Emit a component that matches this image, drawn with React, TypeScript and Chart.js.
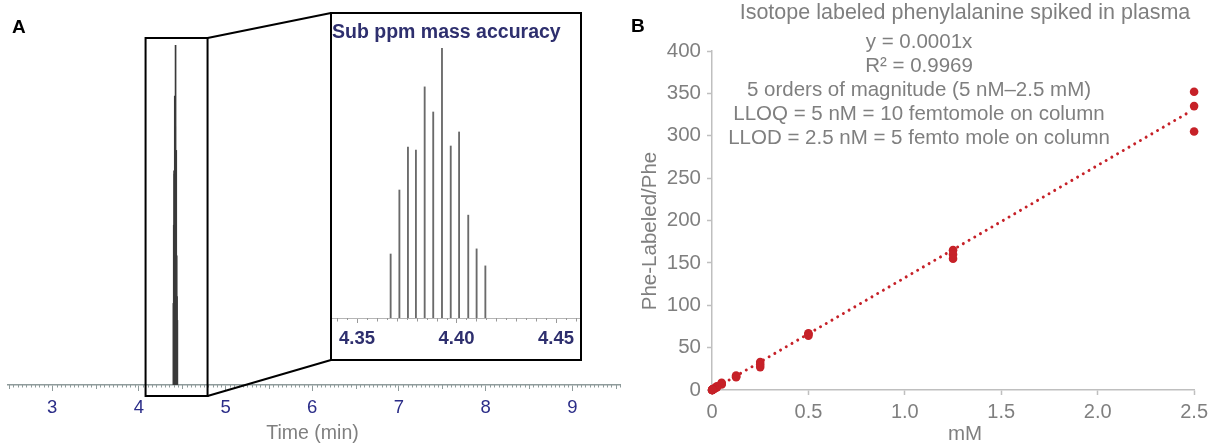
import { useEffect, useRef } from "react";
import { Chart, registerables } from "chart.js";
Chart.register(...registerables);

const W = 1213;
const H = 443;
const FONT = '"Liberation Sans", Arial, Helvetica, sans-serif';
const GRAY = "#7f7f7f";
const NAVY = "#2b2d88";
const INSET_NAVY = "#2e2f6e";
const RED = "#c62128";
const AXIS_A = "#8f9b9b";
const AXIS_B = "#bfbfbf";

// ---------- Panel A: chromatogram ----------
const chromTimes = [4.398, 4.402, 4.406, 4.41, 4.414, 4.419, 4.423, 4.427, 4.431, 4.436, 4.44, 4.444];
const chromIntensity = [0.24, 0.47, 0.63, 0.62, 0.85, 0.76, 1.0, 0.64, 0.69, 0.38, 0.26, 0.19];
const chromTicks = [3, 4, 5, 6, 7, 8, 9];
const zoomWindow = [4.077, 4.792];

// ---------- Panel A: inset ----------
const insetTimes = [4.3669, 4.3713, 4.3756, 4.3796, 4.384, 4.3883, 4.3927, 4.3971, 4.4013, 4.4059, 4.4101, 4.4145];
const insetIntensity = [0.237, 0.474, 0.633, 0.622, 0.856, 0.763, 1.0, 0.637, 0.689, 0.381, 0.256, 0.193];
const insetTicks = [4.35, 4.4, 4.45];

// ---------- Panel B: calibration ----------
const concentrations = [2.5, 1.25, 0.5, 0.25, 0.125, 0.05, 0.025, 0.0125, 0.005, 0.0025, 0.00125, 0.0005];
const replicate1 = [352, 165, 67, 33, 17, 8.5, 4.3, 2.1, 0.9, 0.45, 0.22, 0.09];
const replicate2 = [335, 160, 66, 30, 16, 7.5, 3.6, 1.8, 0.75, 0.38, 0.19, 0.08];
const replicate3 = [305, 155, 64, 27, 15, 6.5, 3.1, 1.5, 0.6, 0.3, 0.15, 0.06];
const trendX = [0, 2.46];
const trendY = [0, 326];
const bTitle = "Isotope labeled phenylalanine spiked in plasma";
const bAnnotations = [
  "y = 0.0001x",
  "R\u00b2 = 0.9969",
  "5 orders of magnitude (5 nM\u20132.5 mM)",
  "LLOQ = 5 nM = 10 femtomole on column",
  "LLOD = 2.5 nM = 5 femto mole on column",
];

function makeMain(canvas: HTMLCanvasElement) {
  const overlay = {
    id: "mainOverlay",
    afterDraw(chart: any) {
      const ctx = chart.ctx as CanvasRenderingContext2D;
      const xs = chart.scales.x;
      const base = chart.chartArea.bottom;
      ctx.save();
      ctx.strokeStyle = AXIS_A;
      ctx.lineWidth = 1;
      for (let k = Math.ceil(xs.min / 0.05); k * 0.05 <= xs.max; k++) {
        if (k % 20 === 0) continue;
        const len = k % 10 === 0 ? 4 : 2.5;
        const px = Math.round(xs.getPixelForValue(k * 0.05)) + 0.5;
        ctx.beginPath();
        ctx.moveTo(px, base);
        ctx.lineTo(px, base + len);
        ctx.stroke();
      }
      // zoom rectangle and connectors
      const x1 = xs.getPixelForValue(zoomWindow[0]);
      const x2 = xs.getPixelForValue(zoomWindow[1]);
      ctx.strokeStyle = "#000";
      ctx.lineWidth = 2;
      ctx.strokeRect(x1, 38, x2 - x1, 358);
      ctx.beginPath();
      ctx.moveTo(x2, 38);
      ctx.lineTo(331, 13);
      ctx.moveTo(x2, 396);
      ctx.lineTo(331, 360);
      ctx.stroke();
      // texts
      ctx.fillStyle = "#000";
      ctx.font = `bold 19px ${FONT}`;
      ctx.textAlign = "left";
      ctx.textBaseline = "alphabetic";
      ctx.fillText("A", 12, 33);
      ctx.fillStyle = GRAY;
      ctx.font = `19.5px ${FONT}`;
      ctx.textAlign = "center";
      ctx.fillText("Time (min)", 312.5, 439);
      ctx.restore();
    },
  };
  return new Chart(canvas, {
    type: "bar",
    data: {
      datasets: [
        {
          data: chromTimes.map((t, i) => ({ x: t, y: chromIntensity[i] })),
          backgroundColor: "#3a3a3a",
          borderWidth: 0,
          barThickness: 1,
        } as any,
      ],
    },
    options: {
      animation: false,
      responsive: false,
      maintainAspectRatio: false,
      layout: { padding: { left: 8, right: W - 620, top: 45, bottom: 0 } },
      plugins: { legend: { display: false }, tooltip: { enabled: false } },
      scales: {
        x: {
          type: "linear",
          min: 2.49,
          max: 9.55,
          offset: false,
          afterBuildTicks: (s: any) => {
            s.ticks = chromTicks.map((v) => ({ value: v }));
          },
          afterFit: (s: any) => {
            s.height = H - 385;
          },
          grid: { display: true, drawOnChartArea: false, drawTicks: true, tickLength: 6, tickColor: AXIS_A, offset: false },
          border: { display: true, color: AXIS_A, width: 1.5 },
          ticks: {
            color: NAVY,
            font: { family: FONT, size: 18.5 },
            padding: 6,
            maxRotation: 0,
            autoSkip: false,
            callback: (v: any) => String(v),
          },
        },
        y: { display: false, min: 0, max: 1 },
      },
    } as any,
    plugins: [overlay],
  });
}

function makeInset(canvas: HTMLCanvasElement) {
  const overlay = {
    id: "insetOverlay",
    beforeDraw(chart: any) {
      const ctx = chart.ctx as CanvasRenderingContext2D;
      ctx.save();
      ctx.fillStyle = "#fff";
      ctx.fillRect(331, 13, 250, 347);
      ctx.restore();
    },
    afterDraw(chart: any) {
      const ctx = chart.ctx as CanvasRenderingContext2D;
      const xs = chart.scales.x;
      const base = chart.chartArea.bottom;
      ctx.save();
      ctx.strokeStyle = "#999";
      ctx.lineWidth = 1;
      for (let k = Math.ceil(xs.min / 0.005); k * 0.005 <= xs.max; k++) {
        if (k % 10 === 0) continue;
        const len = k % 2 === 0 ? 3.5 : 2;
        const px = Math.round(xs.getPixelForValue(k * 0.005)) + 0.5;
        ctx.beginPath();
        ctx.moveTo(px, base);
        ctx.lineTo(px, base + len);
        ctx.stroke();
      }
      ctx.strokeStyle = "#000";
      ctx.lineWidth = 2;
      ctx.strokeRect(331, 13, 250, 347);
      ctx.fillStyle = INSET_NAVY;
      ctx.font = `bold 19.5px ${FONT}`;
      ctx.textAlign = "left";
      ctx.textBaseline = "alphabetic";
      ctx.fillText("Sub ppm mass accuracy", 332, 38);
      ctx.restore();
    },
  };
  return new Chart(canvas, {
    type: "bar",
    data: {
      datasets: [
        {
          data: insetTimes.map((t, i) => ({ x: t, y: insetIntensity[i] })),
          backgroundColor: "#6a6a6a",
          borderWidth: 0,
          barThickness: 1.2,
        } as any,
      ],
    },
    options: {
      animation: false,
      responsive: false,
      maintainAspectRatio: false,
      layout: { padding: { left: 331, right: W - 581, top: 48, bottom: H - 361 } },
      plugins: { legend: { display: false }, tooltip: { enabled: false } },
      scales: {
        x: {
          type: "linear",
          min: 4.33693,
          max: 4.46256,
          offset: false,
          afterBuildTicks: (s: any) => {
            s.ticks = insetTicks.map((v) => ({ value: v }));
          },
          afterFit: (s: any) => {
            s.height = 361 - 318;
          },
          grid: { display: true, drawOnChartArea: false, drawTicks: true, tickLength: 5, tickColor: "#999", offset: false },
          border: { display: true, color: "#b5b5b5", width: 1 },
          ticks: {
            color: INSET_NAVY,
            font: { family: FONT, size: 18.5, weight: "bold" },
            padding: 5,
            maxRotation: 0,
            autoSkip: false,
            callback: (v: any) => Number(v).toFixed(2),
          },
        },
        y: { display: false, min: 0, max: 1 },
      },
    } as any,
    plugins: [overlay],
  });
}

function makeB(canvas: HTMLCanvasElement) {
  const overlay = {
    id: "bOverlay",
    afterDraw(chart: any) {
      const ctx = chart.ctx as CanvasRenderingContext2D;
      ctx.save();
      ctx.fillStyle = GRAY;
      ctx.textAlign = "center";
      ctx.textBaseline = "alphabetic";
      ctx.font = `21.5px ${FONT}`;
      ctx.fillText(bTitle, 965, 19);
      ctx.font = `20.5px ${FONT}`;
      bAnnotations.forEach((line, i) => ctx.fillText(line, 919, 47.5 + i * 24));
      ctx.fillText("mM", 965, 440);
      ctx.save();
      ctx.translate(656, 231);
      ctx.rotate(-Math.PI / 2);
      ctx.fillText("Phe-Labeled/Phe", 0, 0);
      ctx.restore();
      ctx.fillStyle = "#000";
      ctx.textAlign = "left";
      ctx.font = `bold 19px ${FONT}`;
      ctx.fillText("B", 631, 32);
      ctx.restore();
    },
  };
  const points: { x: number; y: number }[] = [];
  concentrations.forEach((c, i) => {
    points.push({ x: c, y: replicate1[i] }, { x: c, y: replicate2[i] }, { x: c, y: replicate3[i] });
  });
  return new Chart(canvas, {
    type: "scatter",
    data: {
      datasets: [
        {
          data: points,
          pointRadius: 4.3,
          pointBackgroundColor: RED,
          pointBorderWidth: 0,
          showLine: false,
          clip: false,
        } as any,
        {
          data: trendX.map((x, i) => ({ x, y: trendY[i] })),
          showLine: true,
          borderColor: RED,
          borderWidth: 3,
          borderDash: [0.01, 6.6],
          borderCapStyle: "round",
          pointRadius: 0,
          clip: false,
        } as any,
      ],
    },
    options: {
      animation: false,
      responsive: false,
      maintainAspectRatio: false,
      layout: { padding: { left: 640, right: W - 1197, top: 51, bottom: 0 } },
      plugins: { legend: { display: false }, tooltip: { enabled: false } },
      scales: {
        x: {
          type: "linear",
          min: 0,
          max: 2.5,
          afterFit: (s: any) => {
            s.height = H - 390;
          },
          grid: { display: true, drawOnChartArea: false, drawTicks: true, tickLength: 5, tickColor: AXIS_B, tickWidth: 1.5 },
          border: { display: true, color: AXIS_B, width: 1.5 },
          ticks: {
            stepSize: 0.5,
            color: GRAY,
            font: { family: FONT, size: 20 },
            padding: 5,
            maxRotation: 0,
            autoSkip: false,
            callback: (v: any) => (Number(v) === 0 ? "0" : Number(v).toFixed(1)),
          },
        },
        y: {
          type: "linear",
          min: 0,
          max: 400,
          afterFit: (s: any) => {
            s.width = 72;
          },
          grid: { display: true, drawOnChartArea: false, drawTicks: true, tickLength: 5, tickColor: AXIS_B, tickWidth: 1.5 },
          border: { display: true, color: AXIS_B, width: 1.5 },
          ticks: {
            stepSize: 50,
            color: GRAY,
            font: { family: FONT, size: 20.5 },
            padding: 6,
            autoSkip: false,
            callback: (v: any) => String(v),
          },
        },
      },
    } as any,
    plugins: [overlay],
  });
}

export default function App() {
  const aRef = useRef<HTMLCanvasElement>(null);
  const iRef = useRef<HTMLCanvasElement>(null);
  const bRef = useRef<HTMLCanvasElement>(null);
  useEffect(() => {
    const charts = [makeMain(aRef.current!), makeInset(iRef.current!), makeB(bRef.current!)];
    return () => charts.forEach((c) => c.destroy());
  }, []);
  const cs = { position: "absolute", left: 0, top: 0, width: W, height: H } as const;
  return (
    <div style={{ position: "fixed", left: 0, top: 0, width: W, height: H, background: "#fff", overflow: "hidden" }}>
      <canvas ref={aRef} width={W} height={H} style={cs} />
      <canvas ref={iRef} width={W} height={H} style={cs} />
      <canvas ref={bRef} width={W} height={H} style={cs} />
    </div>
  );
}
